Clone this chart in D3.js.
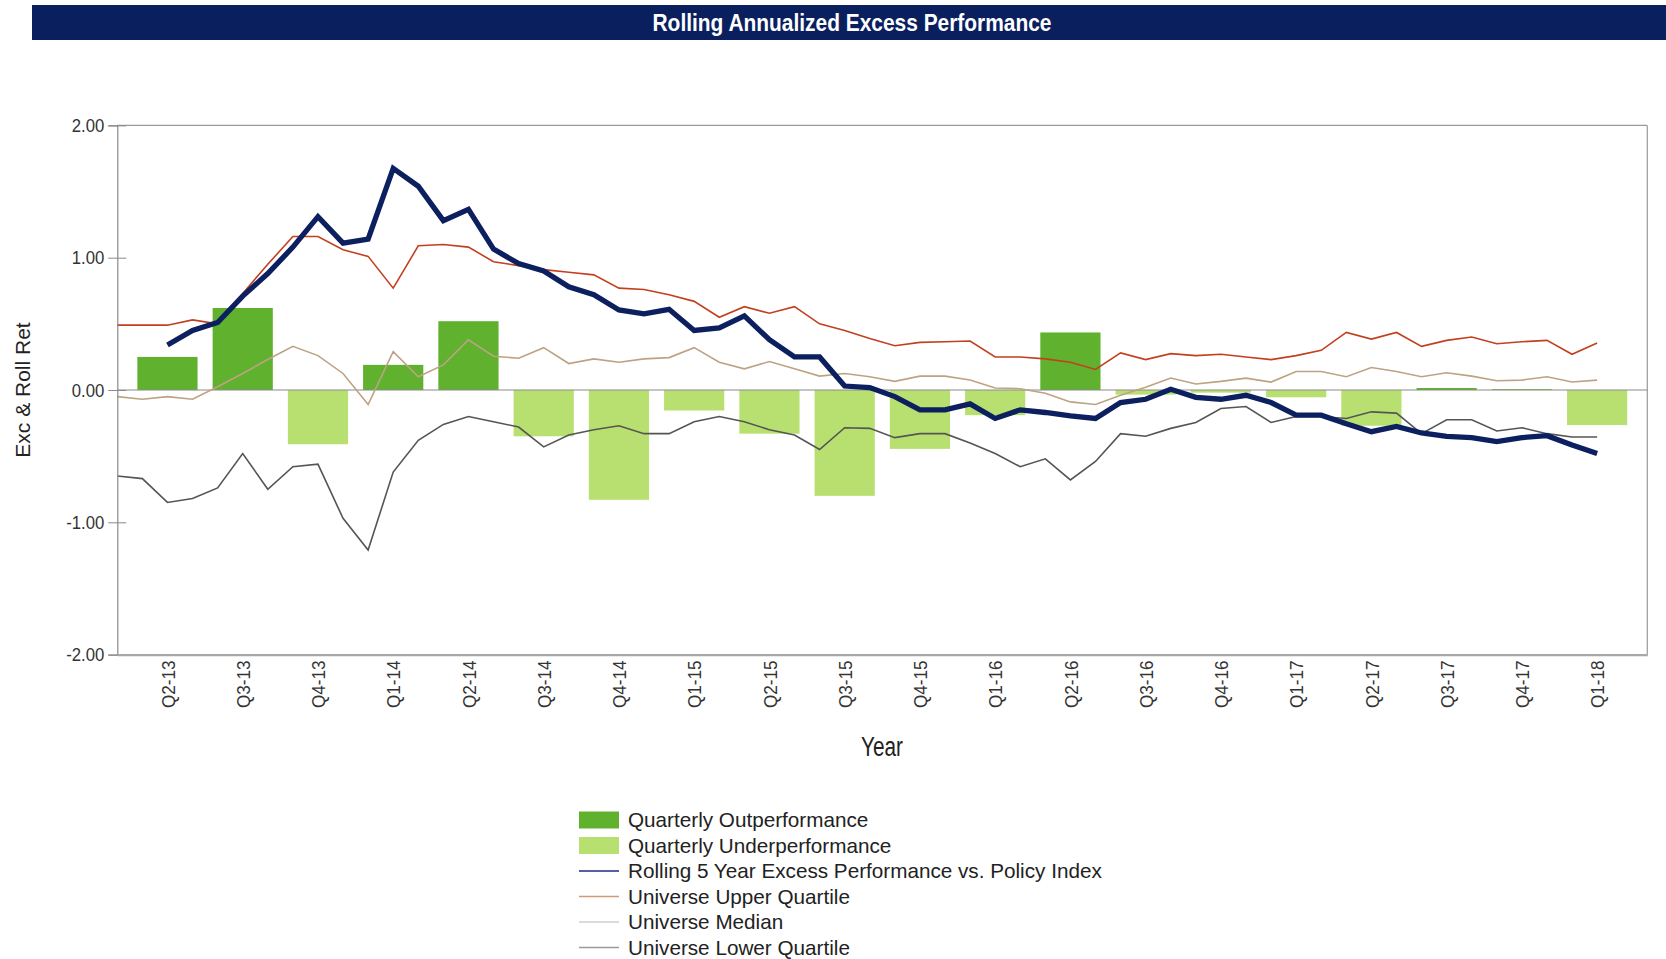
<!DOCTYPE html>
<html>
<head>
<meta charset="utf-8">
<script src="https://cdn.jsdelivr.net/npm/d3@7"></script>
<style>
  html, body { margin: 0; padding: 0; background: #fff; }
  svg { display: block; }
</style>
</head>
<body>
<svg id="chart" width="1666" height="959"></svg>
<script>
// ---------- DATA ----------
const quarterLabels = ["Q2-13","Q3-13","Q4-13","Q1-14","Q2-14","Q3-14","Q4-14","Q1-15","Q2-15","Q3-15",
                       "Q4-15","Q1-16","Q2-16","Q3-16","Q4-16","Q1-17","Q2-17","Q3-17","Q4-17","Q1-18"];
// month index (0 = first monthly observation) at which each quarter label sits
const quarterMonthIndex = [2,5,8,11,14,17,20,23,26,29,32,35,38,41,44,47,50,53,56,59];
// quarterly excess return bars
const quarterlyExcess = [0.25,0.62,-0.41,0.19,0.52,-0.35,-0.83,-0.155,-0.33,-0.80,
                         -0.445,-0.19,0.435,-0.035,-0.02,-0.055,-0.27,0.015,0.006,-0.265];
// monthly series (60 observations)
const upperQuartile = [0.49,0.49,0.49,0.53,0.50,0.73,0.95,1.16,1.16,1.06,
                       1.01,0.77,1.09,1.10,1.08,0.97,0.94,0.91,0.89,0.87,
                       0.77,0.76,0.72,0.67,0.55,0.63,0.58,0.63,0.50,0.45,
                       0.39,0.335,0.36,0.365,0.37,0.25,0.25,0.235,0.21,0.155,
                       0.28,0.23,0.275,0.26,0.27,0.25,0.23,0.26,0.30,0.435,
                       0.385,0.435,0.33,0.375,0.40,0.35,0.365,0.375,0.27,0.355];
const universeMedian = [-0.05,-0.07,-0.05,-0.07,0.025,0.125,0.23,0.33,0.26,0.125,
                        -0.11,0.29,0.10,0.19,0.38,0.255,0.24,0.32,0.20,0.235,
                        0.21,0.235,0.245,0.32,0.21,0.16,0.215,0.16,0.105,0.125,
                        0.10,0.065,0.105,0.105,0.075,0.015,0.01,-0.025,-0.09,-0.11,
                        -0.04,0.02,0.09,0.045,0.065,0.09,0.06,0.14,0.14,0.10,
                        0.17,0.14,0.10,0.13,0.105,0.07,0.075,0.10,0.06,0.075];
const lowerQuartile = [-0.65,-0.67,-0.85,-0.82,-0.74,-0.48,-0.75,-0.58,-0.56,-0.97,
                       -1.21,-0.62,-0.38,-0.26,-0.20,-0.24,-0.28,-0.43,-0.34,-0.30,
                       -0.27,-0.33,-0.33,-0.24,-0.20,-0.24,-0.30,-0.34,-0.45,-0.285,
                       -0.29,-0.36,-0.33,-0.33,-0.40,-0.48,-0.58,-0.52,-0.68,-0.54,
                       -0.33,-0.35,-0.29,-0.245,-0.14,-0.125,-0.245,-0.20,-0.20,-0.215,
                       -0.165,-0.175,-0.33,-0.225,-0.225,-0.31,-0.285,-0.33,-0.355,-0.355];
// rolling 5 year excess performance (starts at month index 2)
const rollingStart = 2;
const rollingExcess = [0.34,0.45,0.51,0.71,0.88,1.08,1.31,1.11,1.14,
                       1.675,1.54,1.28,1.365,1.065,0.955,0.90,0.78,0.72,
                       0.605,0.575,0.61,0.45,0.47,0.56,0.38,0.25,0.25,0.03,
                       0.018,-0.05,-0.15,-0.15,-0.105,-0.215,-0.15,-0.17,-0.195,-0.215,
                       -0.095,-0.07,0.005,-0.055,-0.07,-0.04,-0.095,-0.19,-0.19,-0.255,
                       -0.315,-0.275,-0.325,-0.35,-0.36,-0.39,-0.36,-0.345,-0.415,-0.48];
const yTicks = [-2, -1, 0, 1, 2];
const legendItems = [
  {label: "Quarterly Outperformance", type: "bar", key: "out"},
  {label: "Quarterly Underperformance", type: "bar", key: "under"},
  {label: "Rolling 5 Year Excess Performance vs. Policy Index", type: "line", key: "roll"},
  {label: "Universe Upper Quartile", type: "line", key: "upper"},
  {label: "Universe Median", type: "line", key: "median"},
  {label: "Universe Lower Quartile", type: "line", key: "lower"}
];

// ---------- STYLE ----------
const colors = {
  out: "#5fb12e", under: "#b8e070", roll: "#0c1f5e",
  upper: "#c2401f", median: "#bda383", lower: "#555555"
};
const legendLineColors = { roll: "#1d2a8a", upper: "#d29a78", median: "#cfcfcf", lower: "#9a9a9a" };
const font = "'Liberation Sans',Arial,sans-serif";

const svg = d3.select("#chart");
const plot = {left: 117.3, right: 1647.3, top: 125.4, bottom: 654.6};

// ---------- TITLE BAR ----------
svg.append("rect").attr("x", 32).attr("y", 5).attr("width", 1666 - 32).attr("height", 35)
  .attr("fill", "#0a1f5e");
svg.append("text").attr("transform", "translate(852,22.5) scale(0.91,1)").attr("dy", "0.35em")
  .attr("text-anchor", "middle").attr("fill", "#fff")
  .style("font-family", font).style("font-weight", "bold").style("font-size", "23px")
  .text("Rolling Annualized Excess Performance");

// ---------- SCALES ----------
const x = d3.scaleLinear().domain([0, 61]).range([plot.left, plot.right]);
const y = d3.scaleLinear().domain([-2, 2]).range([plot.bottom, plot.top]);

// ---------- BARS ----------
const barW = x(2.4) - x(0);
svg.append("g").selectAll("rect").data(quarterlyExcess).join("rect")
  .attr("x", (d, i) => x(quarterMonthIndex[i]) - barW / 2)
  .attr("width", barW)
  .attr("y", d => y(Math.max(0, d)))
  .attr("height", d => Math.abs(y(d) - y(0)))
  .attr("fill", d => d >= 0 ? colors.out : colors.under);

// ---------- FRAME ----------
svg.append("line").attr("x1", plot.left).attr("x2", plot.right).attr("y1", plot.top).attr("y2", plot.top)
  .attr("stroke", "#9a9a9a").attr("stroke-width", 1.2);
svg.append("line").attr("x1", plot.right).attr("x2", plot.right).attr("y1", plot.top).attr("y2", plot.bottom)
  .attr("stroke", "#9a9a9a").attr("stroke-width", 1.2);
svg.append("line").attr("x1", plot.left).attr("x2", plot.right).attr("y1", y(0)).attr("y2", y(0))
  .attr("stroke", "#8a8a8a").attr("stroke-width", 1);

// ---------- LINES ----------
const line = d3.line().x(d => x(d.i)).y(d => y(d.v));
const toPts = (arr, start) => arr.map((v, k) => ({i: start + k, v}));
const series = [
  {key: "lower", data: toPts(lowerQuartile, 0), w: 1.6},
  {key: "median", data: toPts(universeMedian, 0), w: 1.6},
  {key: "upper", data: toPts(upperQuartile, 0), w: 1.6},
  {key: "roll", data: toPts(rollingExcess, rollingStart), w: 5.3}
];
svg.append("g").selectAll("path").data(series).join("path")
  .attr("d", d => line(d.data))
  .attr("fill", "none")
  .attr("stroke", d => colors[d.key])
  .attr("stroke-width", d => d.w)
  .attr("stroke-linejoin", "miter")
  .attr("stroke-linecap", "butt");

// ---------- AXES ----------
const yAxis = svg.append("g").attr("transform", `translate(${plot.left},0)`)
  .call(d3.axisLeft(y).tickValues(yTicks).tickFormat(d => d.toFixed(2)).tickSize(9).tickPadding(4));
yAxis.select(".domain").attr("stroke", "#8a8a8a").attr("stroke-width", 1.2);
yAxis.selectAll(".tick line").attr("x1", 9).attr("stroke", "#8a8a8a");
yAxis.selectAll("text")
  .attr("x", 0).attr("transform", "translate(-13,0) scale(0.88,1)")
  .style("font-family", font).style("font-size", "19px").attr("fill", "#333");

const xAxis = svg.append("g").attr("transform", `translate(0,${plot.bottom})`)
  .call(d3.axisBottom(x).tickValues(quarterMonthIndex).tickFormat((d, i) => quarterLabels[i]).tickSize(0));
xAxis.select(".domain").attr("stroke", "#a8a8a8").attr("stroke-width", 2.2);
xAxis.selectAll("text")
  .attr("transform", "rotate(-90) scale(0.9,1)")
  .attr("x", -6 / 0.9).attr("y", 0).attr("dy", "0.35em")
  .attr("text-anchor", "end")
  .style("font-family", font).style("font-size", "19px").attr("fill", "#333");

// axis titles
svg.append("text").attr("transform", "translate(882,747) scale(0.77,1)").attr("dy", "0.35em")
  .attr("text-anchor", "middle")
  .style("font-family", font).style("font-size", "27px").attr("fill", "#222").text("Year");
svg.append("text").attr("transform", `translate(23,${y(0)}) rotate(-90)`).attr("dy", "0.35em")
  .attr("text-anchor", "middle")
  .style("font-family", font).style("font-size", "21px").attr("fill", "#222").text("Exc & Roll Ret");

// ---------- LEGEND ----------
const lg = svg.append("g").attr("transform", "translate(579,820)");
const rows = lg.selectAll("g").data(legendItems).join("g")
  .attr("transform", (d, i) => `translate(0,${i * 25.5})`);
rows.filter(d => d.type === "bar").append("rect")
  .attr("x", 0).attr("y", -8.5).attr("width", 40).attr("height", 17)
  .attr("fill", d => colors[d.key]);
rows.filter(d => d.type === "line").append("line")
  .attr("x1", 0).attr("x2", 40).attr("y1", 0).attr("y2", 0)
  .attr("stroke", d => legendLineColors[d.key]).attr("stroke-width", 1.5);
rows.append("text").attr("x", 49).attr("y", 0).attr("dy", "0.35em")
  .style("font-family", font).style("font-size", "20.7px").attr("fill", "#222")
  .text(d => d.label);
</script>
</body>
</html>
